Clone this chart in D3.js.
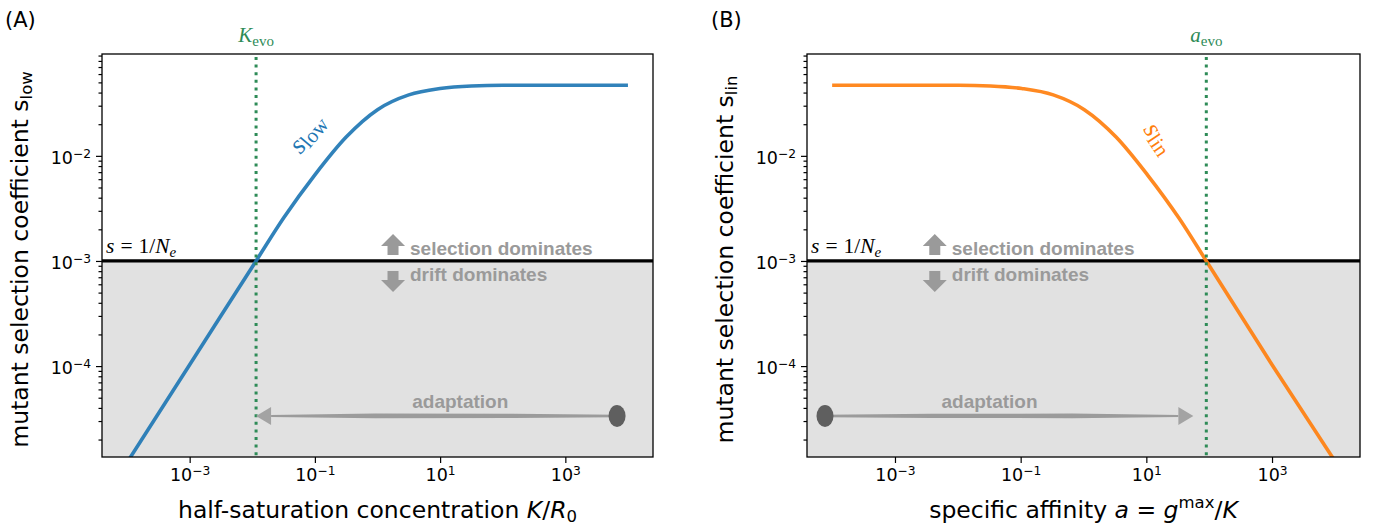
<!DOCTYPE html>
<html>
<head>
<meta charset="utf-8">
<script src="https://cdn.jsdelivr.net/npm/d3@7"></script>
<style type="text/css">
  body{
    margin: 0px;
    background: white;
  }
  svg{
    display: block;
    font-family: 'DejaVu Sans', sans-serif;
  }
  .axis path,
  .axis line {
    stroke: black;
    stroke-width: 1.2px;
  }
  .axis text {
    font-family: 'DejaVu Sans', sans-serif;
    font-size: 17.5px;
    fill: black;
  }
  .ann {
    font-family: 'Liberation Sans', Arial, sans-serif;
    font-weight: bold;
    font-size: 19px;
    fill: #9a9a9a;
  }
  .math {
    font-family: 'Liberation Serif', 'DejaVu Serif', serif;
  }
</style>
</head>
<body>

<svg id="chart" width="1385" height="529"></svg>

<script>

// values
var xTicks = [1e-3, 1e-1, 1e1, 1e3];
var yTicks = [1e-4, 1e-3, 1e-2];
var xDomain = [Math.pow(10, -4.4), Math.pow(10, 4.4)];
var yDomain = [Math.pow(10, -4.865), Math.pow(10, -1.031)];

// (A) s_low against K/R0
var kValues = [1e-4, 1e-3, 0.0115, 0.0316, 0.1, 0.316, 1, 3.16, 10, 31.6, 100, 1e4];
var sLow    = [1.21e-5, 1.03e-4, 1.0e-3, 2.56e-3, 6.6e-3, 1.51e-2, 2.75e-2, 3.80e-2, 4.37e-2, 4.62e-2, 4.69e-2, 4.69e-2];

// (B) s_lin against a = gmax/K
var aValues = [1e-4, 0.0104, 0.033, 0.104, 0.33, 1.03, 3.3, 10.4, 33, 90, 1e3, 1e4];
var sLin    = [4.69e-2, 4.69e-2, 4.62e-2, 4.37e-2, 3.80e-2, 2.75e-2, 1.51e-2, 6.6e-3, 2.56e-3, 1.0e-3, 1.03e-4, 1.25e-5];

var sDrift = 1e-3;   // s = 1/Ne
var kEvo = 0.0115;
var aEvo = 90;

// adaptation arrows: [start, end] along x, at height adaptY
var adaptA = [6700, kEvo];
var adaptB = [7.7e-5, 56];
var adaptY = 3.35e-5;
var adaptLabelX = [21, 0.032];

// "selection / drift dominates" anchor along x
var domArrowX = [1.77, 4.3e-3];


var svg = d3.select("#chart");
var plotTop = 54, plotBottom = 457;

var minorY = [];
for (var e = -5; e <= -1; e++) {
  for (var m = 2; m <= 9; m++) {
    var v = m * Math.pow(10, e);
    if (v > yDomain[0] && v < yDomain[1]) minorY.push(v);
  }
}

function powLabel(sel) {
  sel.each(function(d) {
    var t = d3.select(this);
    var ex = Math.round(Math.log10(d));
    t.text(null);
    t.append("tspan").text("10");
    t.append("tspan")
      .attr("dy", "-0.5em")
      .attr("font-size", "0.7em")
      .text(ex < 0 ? "\u2212" + (-ex) : ex);
  });
}

function drawPanel(p) {

  var x = d3.scaleLog().domain(xDomain).range([p.left, p.right]);
  var y = d3.scaleLog().domain(yDomain).range([plotBottom, plotTop]);

  var g = svg.append("g");

  g.append("clipPath").attr("id", "clip" + p.id)
    .append("rect")
    .attr("x", p.left).attr("y", plotTop)
    .attr("width", p.right - p.left).attr("height", plotBottom - plotTop);

  // drift region
  g.append("rect")
    .attr("x", p.left).attr("y", y(sDrift))
    .attr("width", p.right - p.left)
    .attr("height", plotBottom - y(sDrift))
    .attr("fill", "#e1e1e1");

  // axes
  var xAxis = d3.axisBottom(x).tickValues(xTicks).tickSize(6).tickPadding(6).tickSizeOuter(0);
  g.append("g").attr("class", "axis")
    .attr("transform", "translate(0," + plotBottom + ")")
    .call(xAxis)
    .call(function(a) { a.select(".domain").remove(); })
    .selectAll(".tick text").call(powLabel);

  var yAxis = d3.axisLeft(y).tickValues(yTicks).tickSize(6).tickPadding(5).tickSizeOuter(0);
  g.append("g").attr("class", "axis")
    .attr("transform", "translate(" + p.left + ",0)")
    .call(yAxis)
    .call(function(a) { a.select(".domain").remove(); })
    .selectAll(".tick text").attr("dy", "0.45em").call(powLabel);

  g.append("g").attr("class", "axis")
    .attr("transform", "translate(" + p.left + ",0)")
    .call(d3.axisLeft(y).tickValues(minorY).tickSize(3.5).tickFormat("").tickSizeOuter(0))
    .call(function(a) { a.select(".domain").remove(); });

  // s = 1/Ne threshold
  g.append("line")
    .attr("x1", p.left).attr("x2", p.right)
    .attr("y1", y(sDrift)).attr("y2", y(sDrift))
    .attr("stroke", "black").attr("stroke-width", 3.2);

  var t = g.append("text").attr("class", "math")
    .attr("x", p.left + 4).attr("y", y(sDrift) - 8)
    .attr("font-size", "21.5px");
  t.append("tspan").attr("font-style", "italic").text("s");
  t.append("tspan").attr("dx", 6).text("=");
  t.append("tspan").attr("dx", 6).text("1/");
  t.append("tspan").attr("font-style", "italic").text("N");
  t.append("tspan").attr("font-style", "italic").attr("font-size", "15px").attr("dy", "4").text("e");

  // curve
  var pts = p.xs.map(function(d, i) { return [d, p.ys[i]]; });
  var line = d3.line()
    .x(function(d) { return x(d[0]); })
    .y(function(d) { return y(d[1]); })
    .curve(d3.curveMonotoneX);

  g.append("path")
    .datum(pts)
    .attr("clip-path", "url(#clip" + p.id + ")")
    .attr("d", line)
    .attr("fill", "none")
    .attr("stroke", p.color)
    .attr("stroke-opacity", 0.92)
    .attr("stroke-width", 3.6);

  // curve label
  var cl = g.append("text").attr("class", "math")
    .attr("transform", "translate(" + p.labelPos[0] + "," + p.labelPos[1] + ") rotate(" + p.labelRot + ")")
    .attr("text-anchor", "middle")
    .attr("fill", p.color)
    .attr("font-size", "27px");
  cl.append("tspan").attr("font-style", "italic").text(p.curveLabel[0]);
  cl.append("tspan").attr("font-size", "21px").attr("dy", "3").text(p.curveLabel[1]);

  // evolved value, green dotted
  g.append("line")
    .attr("x1", x(p.evo)).attr("x2", x(p.evo))
    .attr("y1", plotTop + 3).attr("y2", plotBottom)
    .attr("stroke", "#2e8b57")
    .attr("stroke-width", 3)
    .attr("stroke-dasharray", "3,4.6");

  var ev = g.append("text").attr("class", "math")
    .attr("x", x(p.evo)).attr("y", 42)
    .attr("text-anchor", "middle")
    .attr("fill", "#2e8b57")
    .attr("font-size", "21px");
  ev.append("tspan").attr("font-style", "italic").text(p.evoLabel[0]);
  ev.append("tspan").attr("font-size", "15px").attr("dy", "4").text(p.evoLabel[1]);

  // selection / drift dominates
  var ax = x(p.domX), ly = y(sDrift);
  g.append("path")
    .attr("d", "M" + ax + "," + (ly - 27) + "L" + (ax + 12) + "," + (ly - 15) + "L" + (ax + 5.5) + "," + (ly - 15) +
      "L" + (ax + 5.5) + "," + (ly - 6) + "L" + (ax - 5.5) + "," + (ly - 6) + "L" + (ax - 5.5) + "," + (ly - 15) +
      "L" + (ax - 12) + "," + (ly - 15) + "Z")
    .attr("fill", "#9a9a9a");
  g.append("path")
    .attr("d", "M" + ax + "," + (ly + 31) + "L" + (ax + 12) + "," + (ly + 19) + "L" + (ax + 5.5) + "," + (ly + 19) +
      "L" + (ax + 5.5) + "," + (ly + 10) + "L" + (ax - 5.5) + "," + (ly + 10) + "L" + (ax - 5.5) + "," + (ly + 19) +
      "L" + (ax - 12) + "," + (ly + 19) + "Z")
    .attr("fill", "#9a9a9a");
  g.append("text").attr("class", "ann")
    .attr("x", ax + 17).attr("y", ly - 6).text("selection dominates");
  g.append("text").attr("class", "ann")
    .attr("x", ax + 17).attr("y", ly + 20).text("drift dominates");

  // adaptation arrow (brush-like tapered stroke)
  var x0 = x(p.adapt[0]), x1 = x(p.adapt[1]), ay = y(adaptY);
  var dir = x1 > x0 ? 1 : -1;
  var hb = x1 - dir * 15;
  var xa = x0 + (hb - x0) * 0.3;
  var xb = x0 + (hb - x0) * 0.7;
  g.append("path")
    .attr("d", "M" + x0 + "," + (ay - 1.2) + "L" + xa + "," + (ay - 2.2) + "L" + xb + "," + (ay - 2.4) +
      "L" + hb + "," + (ay - 1) + "L" + hb + "," + (ay + 1) + "L" + xb + "," + (ay + 2.2) +
      "L" + xa + "," + (ay + 2) + "L" + x0 + "," + (ay + 1.2) + "Z")
    .attr("fill", "#8e8e8e").attr("fill-opacity", 0.85);
  g.append("path")
    .attr("d", "M" + x1 + "," + ay + "L" + hb + "," + (ay - 9) + "L" + hb + "," + (ay + 9) + "Z")
    .attr("fill", "#a3a3a3");
  g.append("ellipse")
    .attr("cx", x0).attr("cy", ay).attr("rx", 8.5).attr("ry", 11)
    .attr("fill", "#5f5f5f");
  g.append("text").attr("class", "ann")
    .attr("x", x(p.adaptLabel)).attr("y", ay - 8)
    .attr("text-anchor", "middle")
    .text("adaptation");

  // frame
  g.append("rect")
    .attr("x", p.left).attr("y", plotTop)
    .attr("width", p.right - p.left).attr("height", plotBottom - plotTop)
    .attr("fill", "none").attr("stroke", "black").attr("stroke-width", 1.3);

  // axis titles
  var yl = g.append("text")
    .attr("transform", "translate(" + (p.left - 74) + "," + ((plotTop + plotBottom) / 2 + 4) + ") rotate(-90)")
    .attr("text-anchor", "middle")
    .attr("font-size", "23.5px");
  yl.append("tspan").text("mutant selection coefficient s");
  yl.append("tspan").attr("font-size", "16.5px").attr("dy", "4").text(p.curveLabel[1]);

  var xl = g.append("text")
    .attr("x", (p.left + p.right) / 2).attr("y", 518)
    .attr("text-anchor", "middle")
    .attr("font-size", "23.5px");
  p.xTitle(xl);

  svg.append("text")
    .attr("x", p.tagX).attr("y", 27)
    .attr("font-size", "21px")
    .text("(" + p.id + ")");
}

drawPanel({
  id: "A", left: 102, right: 653, tagX: 5,
  xs: kValues, ys: sLow, color: "#1f77b4",
  curveLabel: ["s", "low"], labelPos: [314, 139], labelRot: -50,
  evo: kEvo, evoLabel: ["K", "evo"],
  domX: domArrowX[0], adapt: adaptA, adaptLabel: adaptLabelX[0],
  xTitle: function(t) {
    t.append("tspan").text("half-saturation concentration ");
    t.append("tspan").attr("font-style", "italic").text("K");
    t.append("tspan").text("/");
    t.append("tspan").attr("font-style", "italic").text("R");
    t.append("tspan").attr("font-size", "16.5px").attr("dy", "4").text("0");
  }
});

drawPanel({
  id: "B", left: 807, right: 1360, tagX: 711,
  xs: aValues, ys: sLin, color: "#ff7f0e",
  curveLabel: ["s", "lin"], labelPos: [1152, 143], labelRot: 56,
  evo: aEvo, evoLabel: ["a", "evo"],
  domX: domArrowX[1], adapt: adaptB, adaptLabel: adaptLabelX[1],
  xTitle: function(t) {
    t.append("tspan").text("specific affinity ");
    t.append("tspan").attr("font-style", "italic").text("a");
    t.append("tspan").text(" = ");
    t.append("tspan").attr("font-style", "italic").text("g");
    t.append("tspan").attr("font-size", "16.5px").attr("dy", "-10").text("max");
    t.append("tspan").attr("dy", "10").text("/");
    t.append("tspan").attr("font-style", "italic").text("K");
  }
});

</script>

</body>
</html>
